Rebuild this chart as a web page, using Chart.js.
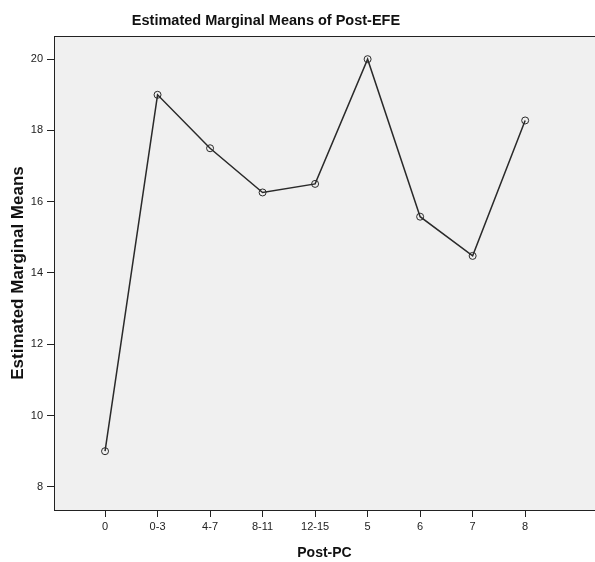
<!DOCTYPE html>
<html>
<head>
<meta charset="utf-8">
<script src="https://cdn.jsdelivr.net/npm/chart.js@4/dist/chart.umd.min.js"></script>
<style>
  html, body { margin: 0; padding: 0; background: #fff; overflow: hidden; }
  #wrap { width: 600px; height: 562px; }
</style>
</head>
<body>
<div id="wrap"><canvas id="myChart" width="600" height="562"></canvas></div>
<script>
const categories = ['0', '0-3', '4-7', '8-11', '12-15', '5', '6', '7', '8']
const means = [9.0, 19.0, 17.5, 16.26, 16.5, 20.0, 15.58, 14.48, 18.28]
const yTicks = [8, 10, 12, 14, 16, 18, 20]
const chartTitle = 'Estimated Marginal Means of Post-EFE'

const sans = 'Liberation Sans, Arial, sans-serif'

// gray plot background, box border and the (off-centre) SPSS title
const plotBox = {
  id: 'plotBox',
  beforeDraw(chart) {
    const { ctx, chartArea: a } = chart
    ctx.save()
    ctx.fillStyle = '#f0f0f0'
    ctx.fillRect(a.left, a.top, a.right - a.left, a.bottom - a.top)
    ctx.restore()
  },
  afterDraw(chart) {
    const { ctx, chartArea: a } = chart
    ctx.save()
    ctx.strokeStyle = '#222'
    ctx.lineWidth = 1
    ctx.strokeRect(a.left + 0.5, a.top + 0.5, a.right - a.left, a.bottom - a.top)
    ctx.fillStyle = '#111'
    ctx.font = 'bold 14.5px ' + sans
    ctx.textAlign = 'center'
    ctx.textBaseline = 'middle'
    ctx.fillText(chartTitle, 266, 21)
    ctx.restore()
  }
}

const ctx = document.getElementById('myChart')
new Chart(ctx, {
  type: 'line',
  data: {
    datasets: [{
      data: means.map((v, i) => ({ x: i, y: v })),
      borderColor: '#2a2a2a',
      borderWidth: 1.5,
      pointRadius: 3.5,
      pointBorderWidth: 1,
      pointBorderColor: '#2a2a2a',
      pointBackgroundColor: 'rgba(0,0,0,0)',
      fill: false,
      tension: 0
    }]
  },
  options: {
    responsive: false,
    animation: false,
    layout: { padding: { left: 0, right: 2, top: 36, bottom: 0 } },
    plugins: {
      legend: { display: false },
      tooltip: { enabled: false },
      title: { display: false }
    },
    scales: {
      x: {
        type: 'linear',
        min: -0.972,
        max: 9.33,
        afterBuildTicks: s => { s.ticks = categories.map((c, i) => ({ value: i })) },
        afterFit: s => { s.height = 52 },
        ticks: {
          color: '#222',
          font: { family: sans, size: 11 },
          padding: 3,
          maxRotation: 0,
          autoSkip: false,
          callback: v => categories[v]
        },
        grid: { drawOnChartArea: false, drawTicks: true, tickLength: 7, color: '#222' },
        border: { display: true, color: '#222' },
        title: {
          display: true,
          text: 'Post-PC',
          color: '#111',
          font: { family: sans, size: 14, weight: 'bold' },
          padding: { top: 0, bottom: 0 }
        }
      },
      y: {
        min: 7.35,
        max: 20.65,
        afterBuildTicks: s => { s.ticks = yTicks.map(v => ({ value: v })) },
        afterFit: s => { s.width = 54 },
        ticks: {
          color: '#222',
          font: { family: sans, size: 11 },
          padding: 4
        },
        grid: { drawOnChartArea: false, drawTicks: true, tickLength: 7, color: '#222' },
        border: { display: true, color: '#222' },
        title: {
          display: true,
          text: 'Estimated Marginal Means',
          color: '#111',
          font: { family: sans, size: 17, weight: 'bold' },
          padding: { top: 8, bottom: 0 }
        }
      }
    }
  },
  plugins: [plotBox]
})
</script>
</body>
</html>
